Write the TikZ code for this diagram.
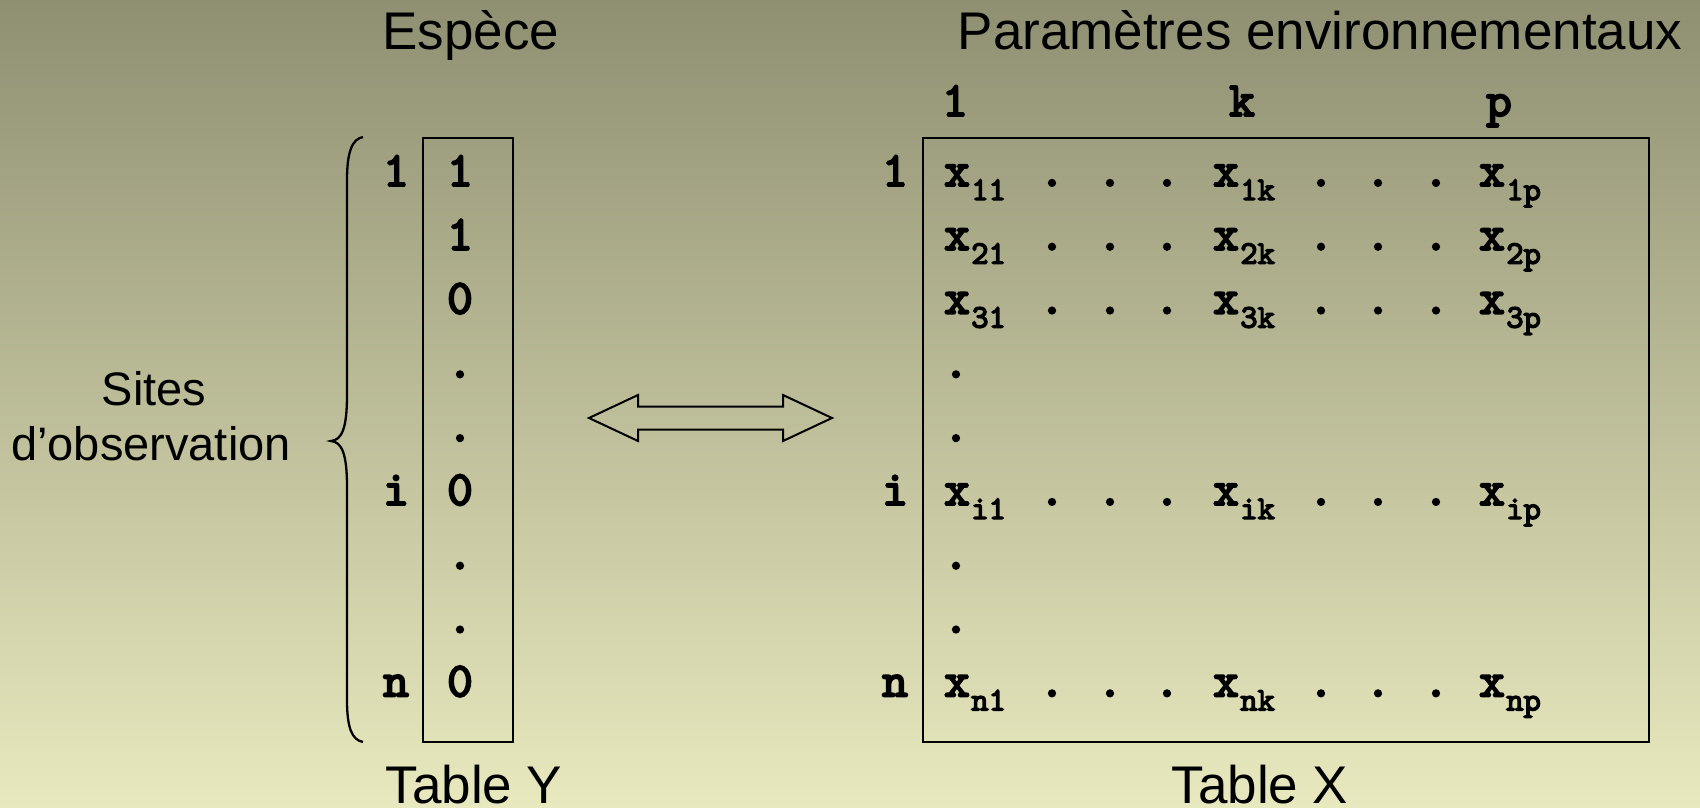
\documentclass[tikz,border=0pt]{standalone}
\usepackage{fontspec}
\setmainfont{Liberation Sans}
\newfontfamily\courfont{lmmono10-regular.otf}[FakeBold=4]
\definecolor{bgtop}{RGB}{143,144,114}
\definecolor{bgbot}{RGB}{233,233,191}
\tikzset{
  titletext/.style={font=\fontsize{53}{60}\selectfont, anchor=base, inner sep=0pt},
  sidetext/.style={font=\fontsize{47}{57}\selectfont, anchor=base, inner sep=0pt},
  mono/.style={font=\courfont\fontsize{49}{52}\selectfont, anchor=base, inner sep=0pt},
  subtext/.style={font=\courfont\fontsize{33}{35}\selectfont, anchor=base west, inner sep=0pt, yshift=-14pt, xshift=1pt},
  frame/.style={draw, line width=2pt},
}
\begin{document}
\begin{tikzpicture}[x=1pt,y=-1pt]
\useasboundingbox (0,0) rectangle (1700,808);
\shade[top color=bgtop, bottom color=bgbot] (0,0) rectangle (1700,808);

% titles
\node[titletext] (tEsp) at (471,50) {Espèce};
\node[titletext] (tPar) at (1320,50) {Paramètres environnementaux};
\node[titletext] (tY) at (474,803) {Table Y};
\node[titletext] (tX) at (1260,803) {Table X};

% side label
\node[sidetext] (s1) at (154,405) {Sites};
\node[sidetext] (s2) at (151,460) {d’observation};

% brace
\draw[line width=2.3pt] (363,137) .. controls (352,139) and (347,152) .. (347,180)
  -- (347,395) .. controls (347,428) and (342,440) .. (331,441)
  .. controls (342,442) and (347,454) .. (347,487)
  -- (347,700) .. controls (347,728) and (352,740) .. (363,742);

% Table Y frame
\draw[frame] (423,138) rectangle (513,742);
\foreach \k/\v in {0/1,1/1,2/0,3/.,4/.,5/0,6/.,7/.,8/0}
  \node[mono] (y\k) at (460,{186+63.8*\k}) {\v};
\foreach \k/\v in {0/1,5/i,8/n}
  \node[mono] (ly\k) at (396,{186+63.8*\k}) {\v};

% double arrow
\draw[line width=2pt, line join=miter] (589,418) -- (638,395) -- (638,406.5) -- (783,406.5)
  -- (783,395) -- (832,418) -- (783,441) -- (783,429.5) -- (638,429.5) -- (638,441) -- cycle;

% Table X frame
\draw[frame] (923,138) rectangle (1649,742);
\node[mono] (h1) at (955,116) {1};
\node[mono] (hk) at (1242,116) {k};
\node[mono] (hp) at (1499,116) {p};
\foreach \k/\v in {0/1,5/i,8/n}
  \node[mono] (lx\k) at (895,{186+63.8*\k}) {\v};
\foreach \k/\rw in {0/1,1/2,2/3,5/i,8/n} {
  \node[mono] (xa\k) at (957,{186+63.8*\k}) {x};
  \node[subtext] (sa\k) at (xa\k.base east) {\rw 1};
  \node[mono] (xb\k) at (1226,{186+63.8*\k}) {x};
  \node[subtext] (sb\k) at (xb\k.base east) {\rw k};
  \node[mono] (xc\k) at (1492,{186+63.8*\k}) {x};
  \node[subtext] (sc\k) at (xc\k.base east) {\rw p};
  \foreach \dx in {1052,1110,1167,1321,1378,1436}
    \node[mono] (d\k-\dx) at (\dx,{186+63.8*\k}) {.};
}
\foreach \k in {3,4,6,7}
  \node[mono] (vd\k) at (956,{186+63.8*\k}) {.};
\end{tikzpicture}
\end{document}
